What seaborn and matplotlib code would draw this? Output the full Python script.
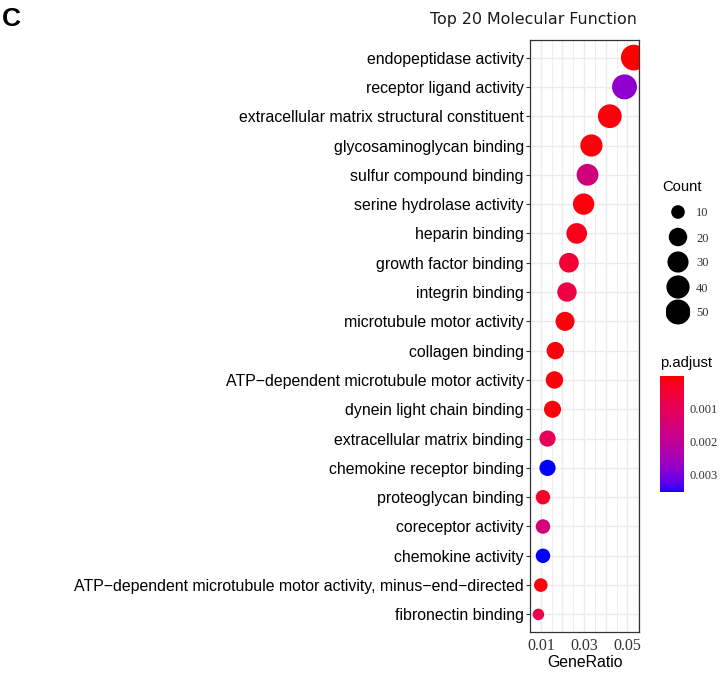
import numpy as np
import pandas as pd
import matplotlib
matplotlib.use("Agg")
import matplotlib.pyplot as plt
from matplotlib.colors import ListedColormap, Normalize
from matplotlib.cm import ScalarMappable
import seaborn as sns

# ---------------- data ----------------
terms = [
    "endopeptidase activity",
    "receptor ligand activity",
    "extracellular matrix structural constituent",
    "glycosaminoglycan binding",
    "sulfur compound binding",
    "serine hydrolase activity",
    "heparin binding",
    "growth factor binding",
    "integrin binding",
    "microtubule motor activity",
    "collagen binding",
    "ATP\u2212dependent microtubule motor activity",
    "dynein light chain binding",
    "extracellular matrix binding",
    "chemokine receptor binding",
    "proteoglycan binding",
    "coreceptor activity",
    "chemokine activity",
    "ATP\u2212dependent microtubule motor activity, minus\u2212end\u2212directed",
    "fibronectin binding",
]
gene_ratio = [0.0530, 0.0487, 0.0419, 0.0334, 0.0316, 0.0298, 0.0266, 0.0230,
              0.0221, 0.0212, 0.0167, 0.0163, 0.0154, 0.0131, 0.0131, 0.0110,
              0.0110, 0.0110, 0.0100, 0.0089]
counts = [55, 50, 43, 35, 33, 31, 28, 24, 23, 22, 17, 17, 16, 14, 14, 11, 11, 11, 10, 9]
p_adjust = [0.00002, 0.0028, 0.0001, 0.0001, 0.0016, 0.0001, 0.0002, 0.0005,
            0.0007, 0.0001, 0.0001, 0.0001, 0.0001, 0.0010, 0.00352, 0.0004,
            0.0015, 0.00352, 0.0001, 0.0008]
x_ticks = [0.01, 0.02, 0.03, 0.04, 0.05]
x_tick_labels = ["0.01", "", "0.03", "", "0.05"]
count_legend = [10, 20, 30, 40, 50]
p_ticks = [0.001, 0.002, 0.003]
p_tick_labels = ["0.001", "0.002", "0.003"]

df = pd.DataFrame({"Description": terms, "GeneRatio": gene_ratio,
                   "Count": counts, "p.adjust": p_adjust})

# ---------------- colour map (red -> blue, interpolated in Lab like ggplot) -------------
WHITE = np.array([0.95047, 1.0, 1.08883])
M = np.array([[0.4124564, 0.3575761, 0.1804375],
              [0.2126729, 0.7151522, 0.0721750],
              [0.0193339, 0.1191920, 0.9503041]])
Minv = np.linalg.inv(M)

def srgb_to_lab(rgb):
    rgb = np.asarray(rgb, float)
    lin = np.where(rgb <= 0.04045, rgb / 12.92, ((rgb + 0.055) / 1.055) ** 2.4)
    xyz = M @ lin / WHITE
    f = np.where(xyz > 0.008856, np.cbrt(xyz), 7.787 * xyz + 16 / 116)
    return np.array([116 * f[1] - 16, 500 * (f[0] - f[1]), 200 * (f[1] - f[2])])

def lab_to_srgb(lab):
    L, a, b = lab
    fy_ = (L + 16) / 116
    fx_ = fy_ + a / 500
    fz_ = fy_ - b / 200
    f = np.array([fx_, fy_, fz_])
    xyz = np.where(f ** 3 > 0.008856, f ** 3, (f - 16 / 116) / 7.787) * WHITE
    lin = np.clip(Minv @ xyz, 0, 1)
    rgb = np.where(lin <= 0.0031308, 12.92 * lin, 1.055 * lin ** (1 / 2.4) - 0.055)
    return np.clip(rgb, 0, 1)

lab_lo = srgb_to_lab([1, 0, 0])
lab_hi = srgb_to_lab([0, 0, 1])
cmap = ListedColormap([lab_to_srgb(lab_lo + t * (lab_hi - lab_lo)) for t in np.linspace(0, 1, 256)])
pmin, pmax = min(p_adjust), max(p_adjust)

# marker size: diameter in px grows with sqrt(count) (ggplot area scale)
def marker_area(c):
    d_px = 11.5 + 2.1 * np.sqrt(max(c - 9, 0))
    return (d_px * 0.72) ** 2

size_map = {c: marker_area(c) for c in sorted(set(counts))}

# ---------------- figure ----------------
sns.set_style("white")
plt.rcParams["font.family"] = ["Liberation Sans", "DejaVu Sans"]
plt.rcParams["text.color"] = "black"

W, H = 726, 677
fig = plt.figure(figsize=(W / 100, H / 100), dpi=100)

def fx(px):
    return px / W

def fy(py):
    return 1 - py / H

ax = fig.add_axes([fx(530), fy(632), 109 / W, 592 / H])
sns.scatterplot(data=df, x="GeneRatio", y="Description", hue="p.adjust", size="Count",
                sizes=size_map, palette=cmap, hue_norm=(pmin, pmax), linewidth=0,
                legend=False, ax=ax, zorder=3)

ax.set_xlim(0.0064, 0.0554)
ax.set_ylim(len(terms) - 0.4, -0.6)
ax.set_xticks(x_ticks)
ax.set_xticklabels(x_tick_labels, fontfamily="Liberation Serif", fontsize=11.5, color="#333333")
ax.set_xticks(np.arange(0.005, 0.0555, 0.005), minor=True)
ax.tick_params(axis="x", which="minor", length=0)
ax.tick_params(axis="x", which="major", length=3, width=0.8, color="#333333", pad=1.5)
ax.tick_params(axis="y", which="major", length=3, width=0.8, color="#333333", pad=1.5,
               labelsize=11.4, labelcolor="black", left=True)
ax.set_axisbelow(True)
ax.grid(which="major", color="#EBEBEB", linewidth=1.0)
ax.grid(which="minor", axis="x", color="#EBEBEB", linewidth=0.6)
ax.set_xlabel("")
ax.set_ylabel("")
for sp in ax.spines.values():
    sp.set_visible(True)
    sp.set_color("#333333")
    sp.set_linewidth(0.9)

# titles
fig.text(fx(2), fy(26), "C", fontsize=19, fontweight="bold", va="baseline", ha="left",
         family=["Liberation Sans", "DejaVu Sans"], color="black")
fig.text(fx(533.5), fy(24), "Top 20 Molecular Function", fontsize=11.4, ha="center",
         va="baseline", family=["DejaVu Sans"], color="#1a1a1a")
fig.text(fx(584.5), fy(667), "GeneRatio", fontsize=11.4, ha="center", va="baseline",
         color="black")

# size legend
fig.text(fx(662), fy(187), "Count", fontsize=10.6, ha="left", va="center", color="black")
lax = fig.add_axes([fx(666), fy(324.5), 24 / W, 125 / H])
lax.scatter([0.5] * len(count_legend), np.arange(len(count_legend)),
            s=[marker_area(c) for c in count_legend], c="black", linewidths=0)
lax.set_xlim(0, 1)
lax.set_ylim(len(count_legend) - 0.5, -0.5)
lax.set_xticks([])
lax.set_yticks(np.arange(len(count_legend)))
lax.set_yticklabels([str(c) for c in count_legend], fontfamily="Liberation Serif",
                    fontsize=9, color="#333333")
lax.tick_params(axis="y", length=0, left=False, right=False, labelleft=False,
                labelright=True, pad=4.3)
lax.patch.set_alpha(0)
for sp in lax.spines.values():
    sp.set_visible(False)

# colour bar (low p = red at top)
fig.text(fx(660), fy(363), "p.adjust", fontsize=10.6, ha="left", va="center", color="black")
cax = fig.add_axes([fx(660), fy(492), 24 / W, 116 / H])
cb = fig.colorbar(ScalarMappable(norm=Normalize(pmin, pmax), cmap=cmap), cax=cax,
                  ticks=p_ticks)
cb.outline.set_visible(False)
cb.minorticks_off()
cax.invert_yaxis()
cax.set_yticks(p_ticks)
cax.set_yticklabels(p_tick_labels, fontfamily="Liberation Serif", fontsize=9, color="#333333")
cax.tick_params(axis="y", direction="in", length=3.5, width=0.8, color="white",
                left=True, right=True, labelleft=False, labelright=True, pad=4.3)

fig.savefig("out.png", dpi=100)
